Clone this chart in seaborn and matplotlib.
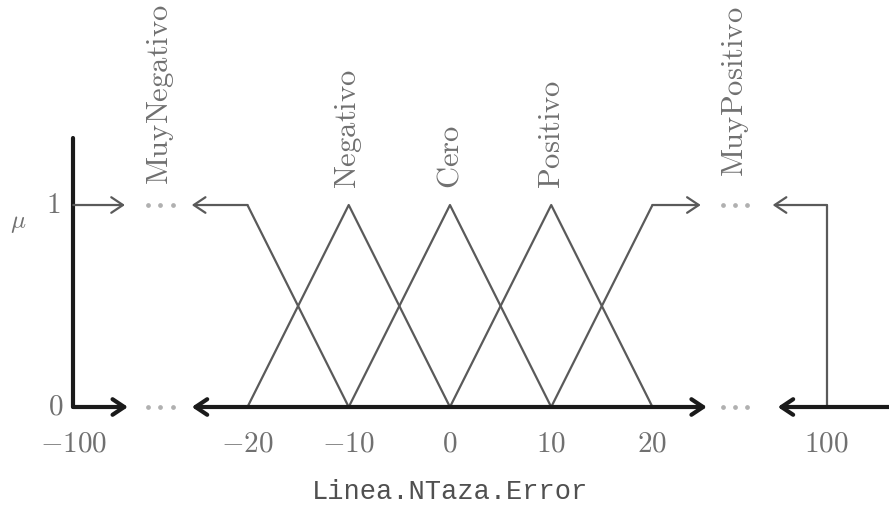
import numpy as np
import pandas as pd
import seaborn as sns
import matplotlib.pyplot as plt

# fuzzy sets of Linea.NTaza.Error (value, membership)
sets = ['MuyNegativo', 'Negativo', 'Cero', 'Positivo', 'MuyPositivo']
set_x = [[-20, -10], [-20, -10, 0], [-10, 0, 10], [0, 10, 20], [10, 20]]
set_mu = [[1, 0], [0, 1, 0], [0, 1, 0], [0, 1, 0], [0, 1]]
label_pos = [-60, -10, 0, 10, 58]
tick_vals = [-100, -20, -10, 0, 10, 20, 100]
tick_text = [r'$-100$', r'$-20$', r'$-10$', r'$0$', r'$10$', r'$20$', r'$100$']

# broken axis: outside [-20, 20] the scale is squeezed
def pos(v):
    v = np.asarray(v, dtype=float)
    out = np.where(np.abs(v) > 20, np.sign(v) * (20 + (np.abs(v) - 20) * 0.215), v)
    return out

rows = []
for s, xs, ms in zip(sets, set_x, set_mu):
    for x, m in zip(xs, ms):
        rows.append({'set': s, 'x': float(pos(x)), 'mu': m})
df = pd.DataFrame(rows)

sns.set_style('white')
plt.rcParams['mathtext.fontset'] = 'cm'

fig = plt.figure(figsize=(8.89, 5.09), dpi=100)
ax = fig.add_axes([0, 0, 1, 1])
ax.set_xlim(-44.44, 43.36)
ax.set_ylim(-0.505, 2.015)
ax.axis('off')

line_c = '#5a5a5a'
axis_c = '#1a1a1a'
txt_c = '#707070'

sns.lineplot(data=df, x='x', y='mu', hue='set', palette=[line_c] * 5,
             sort=False, estimator=None, legend=False, lw=1.6, ax=ax)

left, right = float(pos(-100)), float(pos(100))
gapL, gapR = float(pos(-60)), float(pos(58))

def arrow(x0, x1, y, lw, c, style='->'):
    ax.annotate('', xy=(x1, y), xytext=(x0, y),
                arrowprops=dict(arrowstyle=style + ',head_length=0.42,head_width=0.28',
                                lw=lw, color=c, shrinkA=0, shrinkB=0,
                                mutation_scale=20))

# vertical axis
ax.plot([left, left], [0, 1.33], color=axis_c, lw=3)

# bottom axis pieces
arrow(left, gapL - 3.2, 0, 3, axis_c)
arrow(gapL + 3.1, gapR - 2.8, 0, 3, axis_c, '<->')
arrow(gapR + 16, gapR + 4.2, 0, 3, axis_c)

# membership = 1 pieces
arrow(left, gapL - 3.5, 1, 1.6, line_c)
arrow(-20, gapL + 3.1, 1, 1.6, line_c)
arrow(20, gapR - 3.4, 1, 1.6, line_c)
ax.plot([right, right], [0, 1], color=line_c, lw=1.6)
arrow(right, gapR + 3.7, 1, 1.6, line_c)

# dots in the gaps
for g in (gapL, gapR):
    for y in (0, 1):
        ax.plot([g - 1.2, g, g + 1.2], [y] * 3, 'o', ms=2.4, color='#b0b0b0')

# set labels
label_y = [1.10, 1.08, 1.08, 1.08, 1.14]
for s, p, ly in zip(sets, label_pos, label_y):
    ax.text(float(pos(p)), ly, r'$\mathrm{' + s + '}$', rotation=90,
            ha='center', va='bottom', fontsize=22, color=txt_c)

# tick labels
for v, t in zip(tick_vals, tick_text):
    ax.text(float(pos(v)), -0.18, t, ha='center', va='center', fontsize=21, color=txt_c)

ax.text(left - 2.0, 1, r'$1$', ha='center', va='center', fontsize=21, color=txt_c)
ax.text(left - 1.7, 0, r'$0$', ha='center', va='center', fontsize=21, color=txt_c)
ax.text(-42.6, 0.91, r'$\mu$', ha='center', va='center', fontsize=18, color=txt_c)

ax.text(0, -0.42, 'Linea.NTaza.Error', ha='center', va='center',
        fontsize=19.5, family='Liberation Mono', color='#505050')

fig.savefig('out.png', dpi=100)
